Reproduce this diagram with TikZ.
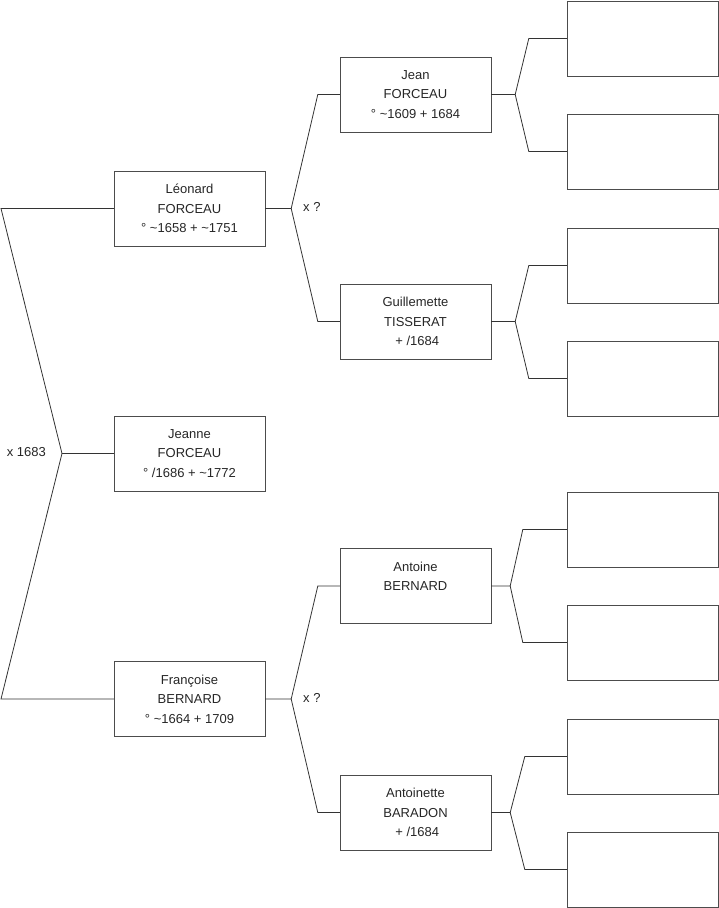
\documentclass[tikz,border=0pt]{standalone}
\usepackage{fontspec}
\setmainfont{Liberation Sans}
\usetikzlibrary{positioning}

\begin{document}
\begin{tikzpicture}[x=1pt, y=-1pt,
  pbox/.style = {draw=black!70, minimum width=151pt, minimum height=75pt,
                 align=center, inner sep=0pt, text=black!85,
                 font=\fontsize{13}{19.5}\selectfont},
  ebox/.style = {draw=black!70, minimum width=151pt, minimum height=75pt},
  link/.style = {draw=black!80, line width=0.8pt},
  mlbl/.style = {text=black!85, inner sep=0pt, font=\fontsize{13}{15}\selectfont},
]
\useasboundingbox (0,0) rectangle (719,908);

% generation 1 and 2
\node[pbox] (leonard)  at (189.5, 208.5) {Léonard\\FORCEAU\\° \textasciitilde1658 + \textasciitilde1751};
\node[pbox] (jeanne)   at (189.5, 453.5) {Jeanne\\FORCEAU\\° /1686 + \textasciitilde1772};
\node[pbox] (francoise) at (189.5, 699) {Françoise\\BERNARD\\° \textasciitilde1664 + 1709};

% generation 3
\node[pbox] (jean)        at (415.5, 94.5)  {Jean\\FORCEAU\\° \textasciitilde1609 + 1684};
\node[pbox] (guillemette) at (415.5, 321.5) {Guillemette\\TISSERAT\\~+ /1684};
\node[pbox] (antoine)     at (415.5, 586)   {Antoine\\BERNARD\\~};
\node[pbox] (antoinette)  at (415.5, 812.5) {Antoinette\\BARADON\\~+ /1684};

% generation 4, still unknown
\node[ebox] (e1) at (642.5, 38.5)  {};
\node[ebox] (e2) at (642.5, 151.5) {};
\node[ebox] (e3) at (642.5, 265.5) {};
\node[ebox] (e4) at (642.5, 378.5) {};
\node[ebox] (e5) at (642.5, 529.5) {};
\node[ebox] (e6) at (642.5, 642.5) {};
\node[ebox] (e7) at (642.5, 756.5) {};
\node[ebox] (e8) at (642.5, 869.5) {};

% parents of Jeanne
\coordinate (ledge) at (1, 0);
\coordinate (m0) at (62, 453.5);
\draw[link] (leonard.west) -- (leonard.west -| ledge) -- (m0) -- (jeanne.west);
\draw[link] (m0) -- (francoise.west -| ledge) -- (francoise.west);
\node[mlbl, anchor=east] (m0lbl) at (46, 452) {x 1683};

% parents of Léonard and Françoise
\coordinate (m1) at ([xshift=26pt]leonard.east);
\draw[link] (leonard.east) -- (m1) -- ([xshift=-22pt]jean.west) -- (jean.west);
\draw[link] (m1) -- ([xshift=-22pt]guillemette.west) -- (guillemette.west);
\node[mlbl, anchor=west] (m1lbl) at (303, 207) {x ?};

\coordinate (m2) at ([xshift=26pt]francoise.east);
\draw[link] (francoise.east) -- (m2) -- ([xshift=-22pt]antoine.west) -- (antoine.west);
\draw[link] (m2) -- ([xshift=-22pt]antoinette.west) -- (antoinette.west);
\node[mlbl, anchor=west] (m2lbl) at (303, 698) {x ?};

% towards generation 4
\coordinate (m3) at ([xshift=24pt]jean.east);
\draw[link] (jean.east) -- (m3) -- ([xshift=-38pt]e1.west) -- (e1.west);
\draw[link] (m3) -- ([xshift=-38pt]e2.west) -- (e2.west);
\coordinate (m4) at ([xshift=24pt]guillemette.east);
\draw[link] (guillemette.east) -- (m4) -- ([xshift=-38pt]e3.west) -- (e3.west);
\draw[link] (m4) -- ([xshift=-38pt]e4.west) -- (e4.west);
\coordinate (m5) at ([xshift=19pt]antoine.east);
\draw[link] (antoine.east) -- (m5) -- ([xshift=-44pt]e5.west) -- (e5.west);
\draw[link] (m5) -- ([xshift=-44pt]e6.west) -- (e6.west);
\coordinate (m6) at ([xshift=19pt]antoinette.east);
\draw[link] (antoinette.east) -- (m6) -- ([xshift=-42pt]e7.west) -- (e7.west);
\draw[link] (m6) -- ([xshift=-42pt]e8.west) -- (e8.west);

\end{tikzpicture}
\end{document}
